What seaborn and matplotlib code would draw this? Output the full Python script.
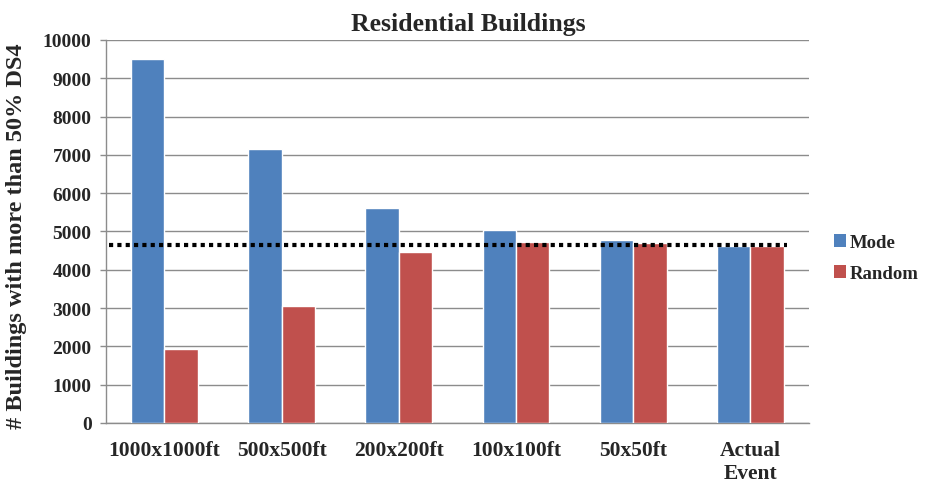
import matplotlib
matplotlib.use("Agg")
import matplotlib.pyplot as plt
import seaborn as sns
import pandas as pd
from matplotlib.patches import Patch

categories = ["1000x1000ft", "500x500ft", "200x200ft", "100x100ft", "50x50ft", "Actual\nEvent"]
mode_values = [9500, 7150, 5600, 5030, 4770, 4620]
random_values = [1930, 3050, 4460, 4730, 4710, 4620]
actual_event_level = 4640
series_names = ["Mode", "Random"]
yticks = [0, 1000, 2000, 3000, 4000, 5000, 6000, 7000, 8000, 9000, 10000]

df = pd.DataFrame({
    "category": categories * 2,
    "series": [series_names[0]] * len(categories) + [series_names[1]] * len(categories),
    "value": mode_values + random_values,
})

sns.set_theme(style="white")
plt.rcParams["font.family"] = ["Liberation Serif", "DejaVu Serif"]
plt.rcParams["font.weight"] = "bold"

colors = {"Mode": "#4F81BD", "Random": "#C0504D"}

fig = plt.figure(figsize=(9.25, 4.85), dpi=100)
ax = fig.add_axes([0.1145, 0.126, 0.76, 0.7895])

sns.barplot(data=df, x="category", y="value", hue="series", palette=colors,
            width=0.57, saturation=1, ax=ax, legend=False, zorder=3)

ax.set_ylim(0, 10000)
ax.set_xlim(-0.5, len(categories) - 0.5)
ax.set_yticks(yticks)
ax.set_yticklabels([str(v) for v in yticks], fontsize=14, fontweight="bold")
ax.yaxis.grid(True, color="#8c8c8c", linewidth=1.0, zorder=0)
ax.xaxis.grid(False)

# category labels centered, separator ticks at the category boundaries
ax.set_xticks(range(len(categories)))
ax.set_xticklabels(categories, fontsize=15.5, fontweight="bold", linespacing=1.25)
ax.tick_params(axis="x", which="major", length=0, pad=12)
ax.set_xticks([i - 0.5 for i in range(len(categories) + 1)], minor=True)
ax.tick_params(axis="x", which="minor", length=4.3, color="#8c8c8c", width=1)
ax.tick_params(axis="y", length=4.3, color="#8c8c8c", width=1, pad=6, left=True)

for s in ["top", "right"]:
    ax.spines[s].set_visible(False)
for s in ["left", "bottom"]:
    ax.spines[s].set_color("#8c8c8c")
    ax.spines[s].set_linewidth(1)

# reference level of the actual event
ax.hlines(actual_event_level, -0.47, 5.31, colors="black", linestyles=(0, (1, 1)),
          linewidth=3, zorder=4)

ax.set_xlabel("")
ax.set_ylabel("# Buildings with more than 50% DS4", fontsize=17.5, fontweight="bold")
ax.yaxis.set_label_coords(-0.112, 0.49)
ax.set_title("Residential Buildings", fontsize=18.5, fontweight="bold", pad=7, x=0.516)

handles = [Patch(facecolor=colors[n], edgecolor="none") for n in series_names]
leg = fig.legend(handles, series_names, loc="center left", bbox_to_anchor=(0.883, 0.466),
                 frameon=False, prop={"size": 13.5, "weight": "bold"},
                 handlelength=0.65, handleheight=0.65, handletextpad=0.2, labelspacing=0.75)

fig.savefig("out.png", dpi=100)
